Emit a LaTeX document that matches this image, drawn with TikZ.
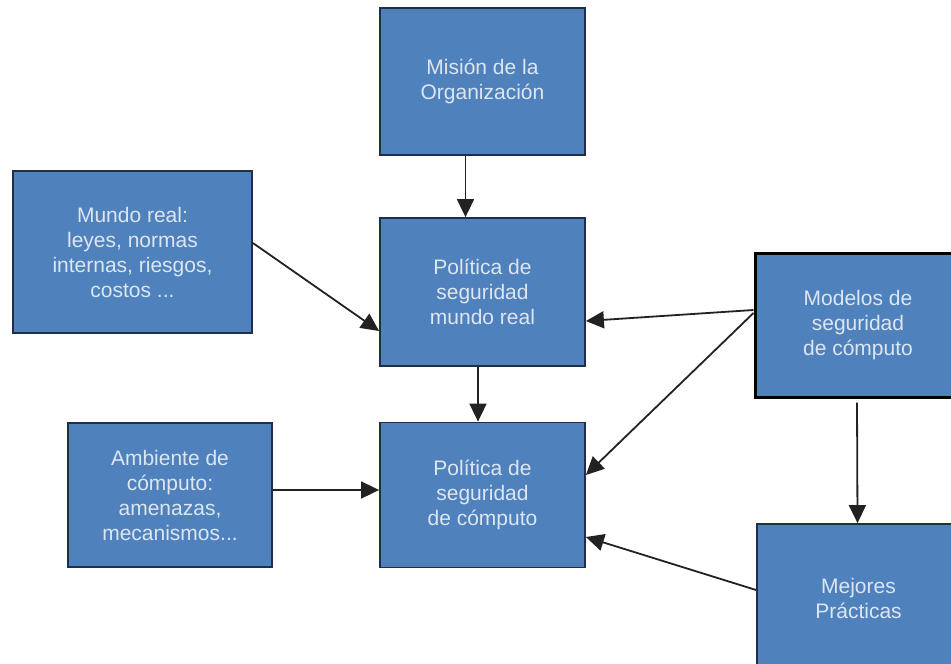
\documentclass[tikz,border=0pt]{standalone}
\usepackage{fontspec}
\setmainfont{Liberation Sans}
\usetikzlibrary{arrows.meta}
\definecolor{boxfill}{HTML}{4F81BD}
\definecolor{boxedge}{HTML}{1F2F4A}
\definecolor{boxtext}{HTML}{DDE6F0}
\definecolor{linkcol}{HTML}{222222}
\tikzset{
  box/.style={draw=boxedge, line width=1.8pt, fill=boxfill, text=boxtext,
    align=center, inner sep=0pt, font=\fontsize{21}{25}\selectfont},
  link/.style={draw=linkcol, line width=1.8pt,
    -{Triangle[length=18pt,width=17pt]}}
}
\begin{document}
\begin{tikzpicture}[x=1pt,y=-1pt]
\useasboundingbox (0,0) rectangle (951,664);
\fill[white] (0,0) rectangle (951,664);

\node[box, minimum width=205pt, minimum height=147pt] (mision) at (482.5,81.5)
  {Misión de la\\Organización};
\node[box, minimum width=239pt, minimum height=162pt] (mundo) at (132.5,252)
  {Mundo real:\\leyes, normas\\internas, riesgos,\\costos ...};
\node[box, minimum width=205pt, minimum height=148pt] (pmr) at (482.5,292)
  {Política de\\seguridad\\mundo real};
\node[box, draw=black, line width=3pt, minimum width=206pt, minimum height=144pt] (modelos) at (858,325)
  {Modelos de\\seguridad\\de cómputo};
\node[box, minimum width=204pt, minimum height=144pt] (ambiente) at (170,495)
  {Ambiente de\\cómputo:\\amenazas,\\mecanismos...};
\node[box, minimum width=205pt, minimum height=145pt] (pc) at (482.5,495)
  {Política de\\seguridad\\de cómputo};
\node[box, minimum width=203pt, minimum height=148pt] (mejores) at (858.5,598)
  {Mejores\\Prácticas};

\draw[link] ([xshift=-17pt]mision.south) -- ([xshift=-17pt]pmr.north);
\draw[link] ([yshift=9pt]mundo.east) -- ([yshift=-39pt]pmr.west);
\draw[link] ([xshift=-4.5pt]pmr.south) -- ([xshift=-4.5pt]pc.north);
\draw[link] ([yshift=15pt]modelos.west) -- ([yshift=-29pt]pmr.east);
\draw[link] ([yshift=12pt]modelos.west) -- ([yshift=20pt]pc.east);
\draw[link] ([xshift=-1pt,yshift=-4pt]modelos.south) -- ([xshift=-1pt]mejores.north);
\draw[link] ([yshift=8pt]mejores.west) -- ([yshift=-42pt]pc.east);
\draw[link] ([yshift=5pt]ambiente.east) -- ([yshift=5pt]pc.west);
\end{tikzpicture}
\end{document}
